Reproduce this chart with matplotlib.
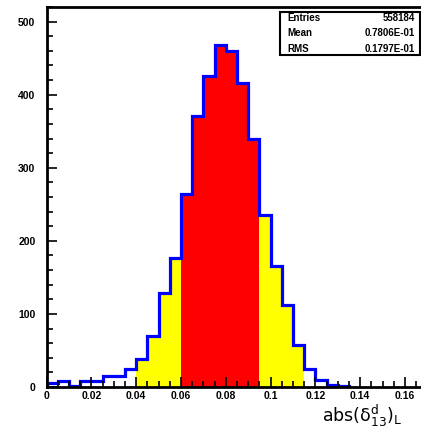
import numpy as np
import matplotlib
matplotlib.use('Agg')
import matplotlib.pyplot as plt
from matplotlib.patches import Rectangle
from matplotlib.ticker import MultipleLocator

# histogram contents, bins of 0.005 starting at 0
bin_width = 0.005
counts = [5, 8, 2, 8, 8, 15, 15, 25, 39, 70, 129, 177, 264, 371, 425,
          468, 460, 416, 340, 236, 165, 112, 57, 24, 10, 3, 1]
yellow_lo = [8, 19]      # bin index ranges shaded yellow
yellow_hi = [12, 23]
red_lo, red_hi = 12, 19  # bins shaded red

xticks = [0, 0.02, 0.04, 0.06, 0.08, 0.1, 0.12, 0.14, 0.16]
xticklabels = ['0', '0.02', '0.04', '0.06', '0.08', '0.1', '0.12', '0.14', '0.16']
yticks = [0, 100, 200, 300, 400, 500]

stats_names = ['Entries', 'Mean', 'RMS']
stats_vals = ['558184', '0.7806E-01', '0.1797E-01']

W, H = 421, 429
fig = plt.figure(figsize=(W/100, H/100), dpi=100)
ax = fig.add_axes([46.5/W, 1-387/H, 0.17*2240/W, 380/H])

edges = np.arange(len(counts)+1) * bin_width
counts = np.array(counts)

for lo, hi in zip(yellow_lo, yellow_hi):
    ax.stairs(counts[lo:hi], edges[lo:hi+1], fill=True, color='#ffff00', lw=0)
ax.stairs(counts[red_lo:red_hi], edges[red_lo:red_hi+1], fill=True, color='#ff0000', lw=0)
ax.stairs(counts, edges, color='#0000ff', lw=2.3, baseline=0)

ax.set_xlim(0, 0.17)
ax.set_ylim(0, 520)

ax.set_xticks(xticks)
ax.set_xticklabels(xticklabels)
ax.set_yticks(yticks)
ax.xaxis.set_minor_locator(MultipleLocator(0.005))
ax.yaxis.set_minor_locator(MultipleLocator(20))
ax.tick_params(which='both', direction='in', top=False, right=False, width=1.2)
ax.tick_params(which='major', length=7)
ax.tick_params(which='minor', length=4)
ax.tick_params(axis='x', pad=3)
ax.tick_params(axis='y', pad=8)
for lab in ax.get_xticklabels() + ax.get_yticklabels():
    lab.set_fontfamily('Liberation Sans')
    lab.set_fontweight('bold')
    lab.set_fontsize(7.5)

for s in ['left', 'bottom', 'top']:
    ax.spines[s].set_linewidth(2)

# x axis title
fig.text(322/W, 1-422/H, r'abs($\mathregular{\delta^{d}_{13}}$)$\mathregular{_{L}}$',
         fontsize=12.5, family='DejaVu Sans', ha='left', va='baseline')

# stats box
fig.add_artist(Rectangle((280/W, 1-55/H), 140/W, 43/H, transform=fig.transFigure,
                         fill=False, edgecolor='black', lw=1.5))
for i, (n, v) in enumerate(zip(stats_names, stats_vals)):
    y = 1 - (18 + 15.5*i)/H
    fig.text(287/W, y, n, fontsize=7, fontweight='bold', family='Liberation Sans',
             ha='left', va='center')
    fig.text(415/W, y, v, fontsize=7, fontweight='bold', family='Liberation Sans',
             ha='right', va='center')

fig.savefig('out.png', dpi=100)
